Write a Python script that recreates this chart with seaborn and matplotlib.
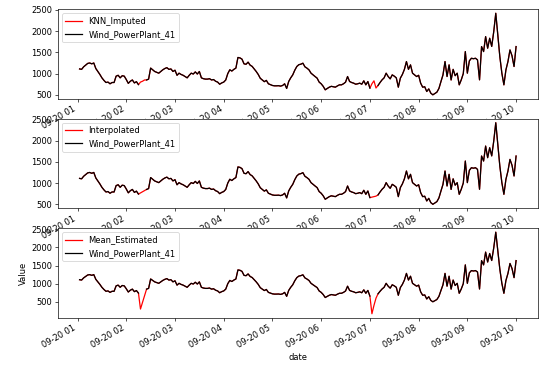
import numpy as np
import pandas as pd
import matplotlib
matplotlib.use("Agg")
import matplotlib.pyplot as plt
import seaborn as sns

# hourly readings, 2020-09-01 01:00 .. 2020-09-10 00:00 (None = missing)
power = [
    # day 1
    1110, 1100, 1160, 1200, 1240, 1250, 1230, 1250, 1120, 1050, 980, 900,
    840, 790, 800, 760, 790, 790, 940, 960, 900, 950, 940, 860,
    # day 2
    770, 820, 850, 780, 810, 740, None, None, None, 850, 870, 1130,
    1090, 1050, 1030, 1010, 1050, 1090, 1120, 1140, 1100, 1110, 1050, 1080,
    # day 3
    960, 1010, 980, 960, 930, 900, 960, 1010, 990, 1040, 990, 1050,
    900, 880, 870, 870, 880, 850, 860, 820, 800, 750, 780, 800,
    # day 4
    850, 1000, 1090, 1060, 1100, 1130, 1380, 1370, 1340, 1230, 1220, 1270,
    1200, 1170, 1110, 1050, 980, 890, 850, 810, 840, 760, 740, 720,
    # day 5
    712, 712, 715, 705, 720, 760, 650, 814, 900, 970, 1080, 1167,
    1210, 1222, 1245, 1160, 1128, 1088, 1010, 970, 930, 893, 800, 760,
    # day 6
    700, 618, 650, 680, 700, 690, 680, 710, 735, 735, 760, 798,
    931, 814, 790, 775, 750, 760, 775, 750, 830, 735, 814, 657,
    # day 7
    None, None, None, 720, 790, 853, 900, 1010, 931, 876, 970, 940,
    900, 680, 893, 980, 1100, 1284, 1100, 1206, 1010, 970, 931, 960,
    # day 8
    775, 680, 690, 578, 640, 539, 500, 530, 563, 650, 814, 970,
    1284, 931, 1206, 850, 1100, 950, 1010, 735, 853, 1000, 1519, 1010,
    # day 9
    1300, 1362, 1350, 1362, 1323, 853, 1637, 1519, 1872, 1598, 1833, 1640,
    1990, 2422, 1911, 1400, 1010, 735, 1088, 1284, 1558, 1420, 1167, 1637,
]

gap_hours = [31, 32, 33, 145, 146, 147]
knn_fill = [800, 820, 850, 760, 830, 660]
interp_fill = [768, 795, 823, 668, 681, 692]
mean_fill = [300, 483, 667, 170, 400, 600]

methods = ["KNN_Imputed", "Interpolated", "Mean_Estimated"]
fills = [knn_fill, interp_fill, mean_fill]
series_name = "Wind_PowerPlant_41"
tick_labels = ["09-20 01", "09-20 02", "09-20 03", "09-20 04", "09-20 05",
               "09-20 06", "09-20 07", "09-20 08", "09-20 09", "09-20 10"]

dates = pd.date_range("2020-09-01 01:00", periods=len(power), freq="h")
orig = pd.Series([np.nan if v is None else v for v in power], index=dates, dtype=float)
tick_pos = pd.date_range("2020-09-01", periods=len(tick_labels), freq="D")

fig, axes = plt.subplots(3, 1, figsize=(550 / 60, 367 / 60), dpi=60)
fig.subplots_adjust(left=0.105, right=0.978, top=0.975, bottom=0.134, hspace=0.22)

# contiguous segments of observed data
valid = orig.notna().values
seg_id = np.cumsum(np.r_[True, valid[1:] != valid[:-1]])

for ax, name, fill in zip(axes, methods, fills):
    imputed = orig.copy()
    for h, v in zip(gap_hours, fill):
        imputed.iloc[h - 1] = v
    sns.lineplot(x=imputed.index, y=imputed.values, color="red", label=name,
                 linewidth=1.5, ax=ax)
    first = True
    for s in np.unique(seg_id[valid]):
        m = (seg_id == s) & valid
        sns.lineplot(x=orig.index[m], y=orig.values[m], color="black",
                     label=series_name if first else None, linewidth=1.5, ax=ax)
        first = False
    ax.legend(loc="upper left")
    ax.set_xticks(tick_pos)
    ax.set_xticklabels(tick_labels, rotation=30, ha="right")
    ax.set_xlabel("")
    ax.set_ylabel("")

axes[-1].set_xlabel("date")
axes[-1].set_ylabel("Value")

fig.savefig("out.png", dpi=60)
